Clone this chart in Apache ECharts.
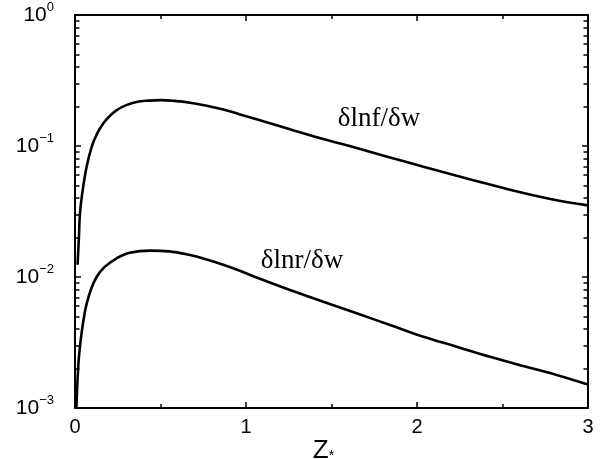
<!DOCTYPE html>
<html>
<head>
<meta charset="utf-8">
<script src="https://cdn.jsdelivr.net/npm/echarts@6/dist/echarts.min.js"></script>
<style>
  html, body { margin: 0; padding: 0; background: #fff; }
  #chart { width: 605px; height: 459px; }
</style>
</head>
<body>
<div id="chart"></div>
<script>
// Sensitivity curves versus Z*
const fX = [0.015, 0.023, 0.029, 0.045, 0.068, 0.098, 0.13, 0.166, 0.2, 0.244, 0.3, 0.36, 0.43, 0.5, 0.58, 0.673, 0.77, 0.867, 0.96, 1.062, 1.257, 1.452, 1.647, 1.842, 2.037, 2.232, 2.427, 2.622, 2.817, 3.0];
const fY = [0.0124, 0.0203, 0.0306, 0.046, 0.0695, 0.099, 0.125, 0.149, 0.168, 0.188, 0.205, 0.217, 0.222, 0.224, 0.221, 0.214, 0.203, 0.19, 0.175, 0.16, 0.134, 0.113, 0.0965, 0.0818, 0.0695, 0.0593, 0.0508, 0.0437, 0.0385, 0.0352];

const rX = [0.008, 0.019, 0.029, 0.041, 0.053, 0.064, 0.092, 0.127, 0.175, 0.244, 0.32, 0.44, 0.55, 0.673, 0.77, 0.867, 0.96, 1.062, 1.257, 1.452, 1.647, 1.842, 2.037, 2.232, 2.427, 2.622, 2.817, 3.0];
const rY = [0.001, 0.00207, 0.00294, 0.00394, 0.00498, 0.00593, 0.00796, 0.01005, 0.012, 0.0139, 0.0153, 0.0159, 0.0157, 0.0147, 0.0136, 0.0124, 0.0112, 0.0099, 0.00796, 0.00648, 0.00529, 0.0043, 0.0035, 0.00294, 0.00246, 0.00209, 0.00179, 0.00151];

// Axis tick values
const xMin = 0, xMax = 3, xStep = 1;
const yMin = 0.001, yMax = 1;
const yDecades = [0.001, 0.01, 0.1, 1];
const yMinorTicks = [];
for (let d = 0; d < yDecades.length - 1; d++) {
  for (let k = 2; k <= 9; k++) yMinorTicks.push(+(yDecades[d] * k).toPrecision(3));
}

const fLabel = 'δlnf/δw';
const rLabel = 'δlnr/δw';

const zip = (xs, ys) => xs.map((x, i) => [x, ys[i]]);

const ink = '#000';
const sans = 'Liberation Sans, Arial, sans-serif';
const serif = 'Liberation Serif, Times New Roman, serif';

function decadeLabel(v) {
  const e = Math.round(Math.log10(v));
  const s = e < 0 ? '−' + (-e) : String(e);
  return '{b|10}{s|' + s + '}';
}

const chart = echarts.init(document.getElementById('chart'), null, { renderer: 'canvas' });

function yAxisDef(side, ticks, len, withLabels, withLine) {
  return {
    type: 'log',
    logBase: 10,
    min: yMin,
    max: yMax,
    position: side,
    axisLine: { show: withLine, lineStyle: { color: ink, width: 2 } },
    axisTick: { show: true, inside: true, length: len, customValues: ticks, lineStyle: { color: ink, width: 1.5 } },
    minorTick: { show: false },
    splitLine: { show: false },
    axisLabel: withLabels ? {
      show: true,
      customValues: yDecades,
      margin: 21,
      fontSize: 21,
      fontFamily: sans,
      color: ink,
      formatter: decadeLabel,
      rich: {
        b: { fontSize: 21, fontFamily: sans, color: ink },
        s: { fontSize: 13, fontFamily: sans, color: ink, padding: [0, 0, 15, 0] }
      }
    } : { show: false }
  };
}

function xAxisDef(side, withLabels) {
  return {
    type: 'value',
    min: xMin,
    max: xMax,
    interval: xStep,
    position: side,
    axisLine: { show: true, onZero: false, lineStyle: { color: ink, width: 2 } },
    axisTick: { show: true, inside: true, length: 6, lineStyle: { color: ink, width: 1.5 } },
    minorTick: { show: true, splitNumber: 2, length: 4, lineStyle: { color: ink, width: 1.5 } },
    splitLine: { show: false },
    axisLabel: withLabels ? {
      show: true, margin: 9, fontSize: 20, fontFamily: sans, color: ink,
      formatter: v => String(v)
    } : { show: false },
    name: withLabels ? '{z|Z}{s|*}' : '',
    nameLocation: 'middle',
    nameGap: 30,
    nameMoveOverlap: false,
    nameTextStyle: {
      padding: [0, 16, 0, 0],
      verticalAlign: 'top',
      rich: {
        z: { fontSize: 26, fontFamily: sans, color: ink },
        s: { fontSize: 14, fontFamily: sans, color: ink, padding: [10, 0, 0, 0] }
      }
    }
  };
}

const option = {
  animation: false,
  backgroundColor: '#fff',
  grid: { left: 75, right: 17, top: 15, bottom: 51, containLabel: false, outerBoundsMode: 'none' },
  xAxis: [xAxisDef('bottom', true), xAxisDef('top', false)],
  yAxis: [
    yAxisDef('left', yDecades, 6, true, true),
    yAxisDef('left', yMinorTicks, 4.5, false, false),
    yAxisDef('right', yDecades, 6, false, true),
    yAxisDef('right', yMinorTicks, 4.5, false, false)
  ],
  series: [
    {
      name: fLabel, type: 'line', xAxisIndex: 0, yAxisIndex: 0,
      data: zip(fX, fY), showSymbol: false, smooth: 0.4,
      lineStyle: { color: ink, width: 2.6 }, clip: true,
      markPoint: {
        symbol: 'circle', symbolSize: 0,
        data: [{ coord: [1.778, 0.161], label: { show: true, formatter: fLabel, fontFamily: serif, fontSize: 27, color: ink, position: 'inside' } }]
      }
    },
    {
      name: rLabel, type: 'line', xAxisIndex: 0, yAxisIndex: 0,
      data: zip(rX, rY), showSymbol: false, smooth: 0.4,
      lineStyle: { color: ink, width: 2.6 }, clip: true,
      markPoint: {
        symbol: 'circle', symbolSize: 0,
        data: [{ coord: [1.327, 0.01325], label: { show: true, formatter: rLabel, fontFamily: serif, fontSize: 27, color: ink, position: 'inside' } }]
      }
    }
  ]
};

chart.setOption(option);
</script>
</body>
</html>
